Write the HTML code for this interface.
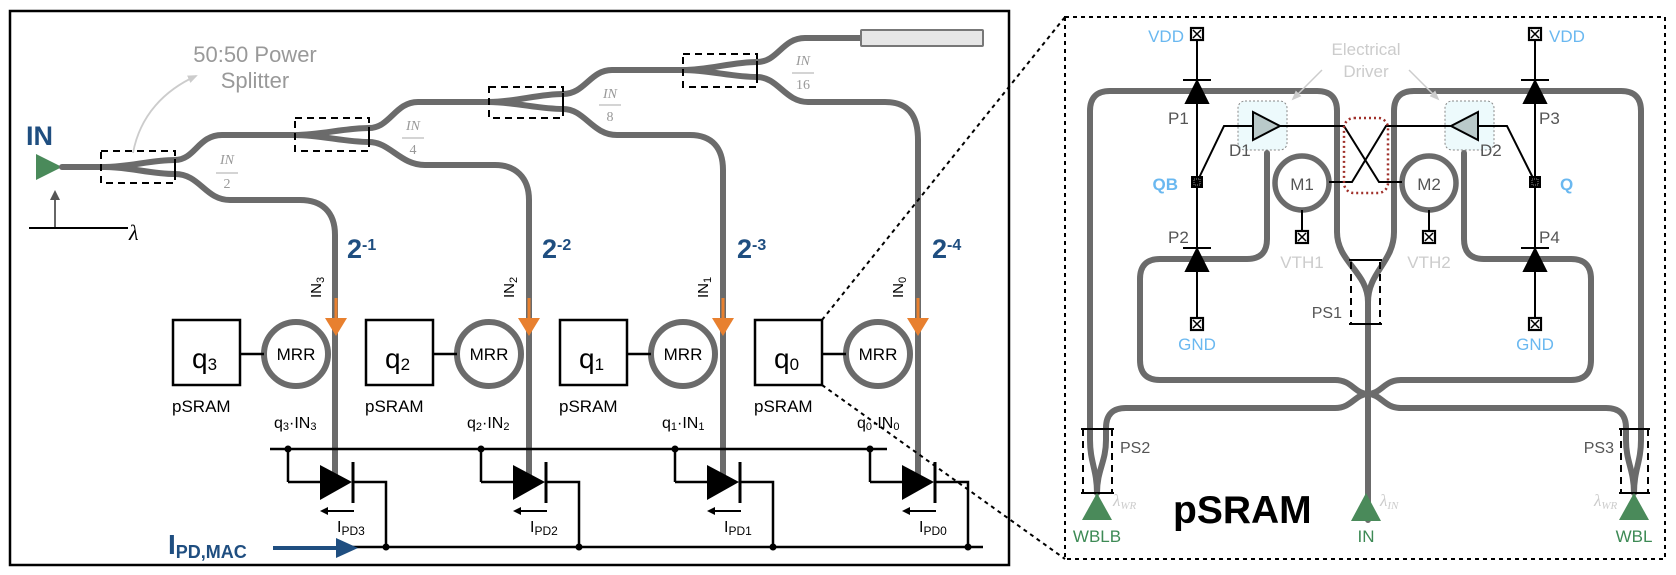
<!DOCTYPE html>
<html><head><meta charset="utf-8"><style>
html,body{margin:0;padding:0;background:#fff;}
svg{display:block;font-family:"Liberation Sans",sans-serif;}
</style></head><body>
<svg width="1676" height="575" viewBox="0 0 1676 575" xmlns="http://www.w3.org/2000/svg">
<defs>
<marker id="ah" markerWidth="8" markerHeight="8" refX="6" refY="4" orient="auto" markerUnits="userSpaceOnUse"><path d="M0,0 L8,4 L0,8 z" fill="#000"/></marker>
<marker id="ahg" markerWidth="10" markerHeight="10" refX="8" refY="5" orient="auto" markerUnits="userSpaceOnUse"><path d="M0,0 L10,5 L0,10 z" fill="#555"/></marker>
<marker id="ahl" markerWidth="10" markerHeight="10" refX="8" refY="5" orient="auto" markerUnits="userSpaceOnUse"><path d="M0,1 L10,5 L0,9 z" fill="#ccc"/></marker>
</defs>

<rect x="10" y="11" width="999" height="554" fill="none" stroke="#000" stroke-width="2.5"/>

<text x="255" y="62" font-size="22" fill="#999" text-anchor="middle">50:50 Power</text>
<text x="255" y="88" font-size="22" fill="#999" text-anchor="middle">Splitter</text>
<path d="M133,153 C140,115 165,90 196,76" fill="none" stroke="#ccc" stroke-width="1.8" marker-end="url(#ahl)"/>

<text x="26" y="145" font-size="27" font-weight="bold" fill="#1f4e80">IN</text>
<path d="M36,154 L62,167 L36,180 z" fill="#4a8a5a"/>
<line x1="55" y1="228" x2="55" y2="192" stroke="#555" stroke-width="1.8" marker-end="url(#ahg)"/>
<line x1="29" y1="228" x2="128" y2="228" stroke="#000" stroke-width="2"/>
<text x="129" y="240" font-size="22" font-style="italic" font-family="Liberation Serif,serif">λ</text>

<g fill="none" stroke="#6b6b6b" stroke-width="6" stroke-linecap="round">
<path d="M62,167 H105 C130,167 150,160 175,160 C195,160 198,135 222,135 H295"/>
<path d="M105,167 C130,167 150,174 175,174 C200,174 205,200 230,200 H300 C322,200 335,212 335,235 V478"/>
<path d="M295,135 C320,135 345,128 369,128 C390,128 395,102 418,102 H489"/>
<path d="M295,135 C320,135 345,142 369,142 C390,142 400,165 425,165 H495 C515,165 529,177 529,200 V478"/>
<path d="M489,102 C514,102 539,94 563,94 C585,94 590,70 612,70 H683"/>
<path d="M489,102 C514,102 539,109 563,109 C585,109 592,135 617,135 H690 C712,135 723,148 723,170 V478"/>
<path d="M683,70 C708,70 733,62 757,62 C778,62 782,38 805,38 H861"/>
<path d="M683,70 C708,70 733,77 757,77 C778,77 785,102 808,102 H885 C908,102 918,115 918,140 V478"/>
</g>
<rect x="861" y="30" width="122" height="16" fill="#e6e6e6" stroke="#777" stroke-width="2" rx="1"/>
<g fill="none" stroke="#000" stroke-width="2">
<rect x="101" y="151" width="74" height="32" stroke-dasharray="7,5"/>
<line x1="175" y1="159" x2="175" y2="175"/>
<rect x="295" y="118" width="74" height="33" stroke-dasharray="7,5"/>
<line x1="369" y1="127" x2="369" y2="143"/>
<rect x="489" y="87" width="74" height="31" stroke-dasharray="7,5"/>
<line x1="563" y1="93" x2="563" y2="110"/>
<rect x="683" y="54" width="74" height="33" stroke-dasharray="7,5"/>
<line x1="757" y1="61" x2="757" y2="78"/>
</g>
<g font-family="Liberation Serif,serif" fill="#999" font-size="14" text-anchor="middle">
<text x="227" y="164" font-style="italic">IN</text><line x1="216" y1="173" x2="238" y2="173" stroke="#aaa"/><text x="227" y="188">2</text>
<text x="413" y="130" font-style="italic">IN</text><line x1="402" y1="138" x2="424" y2="138" stroke="#aaa"/><text x="413" y="154">4</text>
<text x="610" y="98" font-style="italic">IN</text><line x1="599" y1="105" x2="621" y2="105" stroke="#aaa"/><text x="610" y="121">8</text>
<text x="803" y="65" font-style="italic">IN</text><line x1="792" y1="73" x2="814" y2="73" stroke="#aaa"/><text x="803" y="89">16</text>
</g>

<g font-weight="bold" fill="#1f4e80">
<text x="347" y="258" font-size="27">2<tspan font-size="16" dy="-8">-1</tspan></text>
<text x="542" y="258" font-size="27">2<tspan font-size="16" dy="-8">-2</tspan></text>
<text x="737" y="258" font-size="27">2<tspan font-size="16" dy="-8">-3</tspan></text>
<text x="932" y="258" font-size="27">2<tspan font-size="16" dy="-8">-4</tspan></text>
</g>
<g font-size="15" fill="#000">
<text transform="translate(321,298) rotate(-90)">IN<tspan font-size="11" dy="3">3</tspan></text>
<text transform="translate(514,298) rotate(-90)">IN<tspan font-size="11" dy="3">2</tspan></text>
<text transform="translate(708,298) rotate(-90)">IN<tspan font-size="11" dy="3">1</tspan></text>
<text transform="translate(903,298) rotate(-90)">IN<tspan font-size="11" dy="3">0</tspan></text>
</g>

<g id="c3">
<line x1="336" y1="298" x2="336" y2="322" stroke="#e8802f" stroke-width="3"/>
<path d="M325,318 L347,318 L336,336 z" fill="#e8802f"/>
<circle cx="296" cy="354" r="32" fill="#fff" stroke="#6b6b6b" stroke-width="6"/>
<text x="296" y="360" font-size="17" text-anchor="middle">MRR</text>
<rect x="173" y="320" width="67" height="65" fill="#fff" stroke="#000" stroke-width="2.5"/>
<line x1="240" y1="354" x2="264" y2="354" stroke="#000" stroke-width="2.5"/>
<line x1="288" y1="449" x2="288" y2="482" stroke="#000" stroke-width="2.5"/>
<path d="M288,482 H320" stroke="#000" stroke-width="2.5"/>
<path d="M320,465 L320,500 L352,482 z" fill="#000"/>
<line x1="353" y1="462" x2="353" y2="503" stroke="#000" stroke-width="3"/>
<path d="M353,482 H386 V547" fill="none" stroke="#000" stroke-width="2.5"/>
<circle cx="288" cy="449" r="3.5"/><circle cx="386" cy="547" r="3.5"/>
<line x1="354" y1="511" x2="322" y2="511" stroke="#000" stroke-width="2" marker-end="url(#ah)"/>
<text x="172" y="412" font-size="17">pSRAM</text>
</g>
<use href="#c3" transform="translate(193,0)"/>
<use href="#c3" transform="translate(387,0)"/>
<use href="#c3" transform="translate(582,0)"/>
<g font-size="28">
<text x="192" y="368">q<tspan font-size="17" dy="2">3</tspan></text>
<text x="385" y="368">q<tspan font-size="17" dy="2">2</tspan></text>
<text x="579" y="368">q<tspan font-size="17" dy="2">1</tspan></text>
<text x="774" y="368">q<tspan font-size="17" dy="2">0</tspan></text>
</g>
<g font-size="16">
<text x="274" y="428">q<tspan font-size="11" dy="2">3</tspan><tspan dy="-2">·IN</tspan><tspan font-size="11" dy="2">3</tspan></text>
<text x="467" y="428">q<tspan font-size="11" dy="2">2</tspan><tspan dy="-2">·IN</tspan><tspan font-size="11" dy="2">2</tspan></text>
<text x="662" y="428">q<tspan font-size="11" dy="2">1</tspan><tspan dy="-2">·IN</tspan><tspan font-size="11" dy="2">1</tspan></text>
<text x="857" y="428">q<tspan font-size="11" dy="2">0</tspan><tspan dy="-2">·IN</tspan><tspan font-size="11" dy="2">0</tspan></text>
</g>
<g font-size="16">
<text x="337" y="532">I<tspan font-size="12" dy="3">PD3</tspan></text>
<text x="530" y="532">I<tspan font-size="12" dy="3">PD2</tspan></text>
<text x="724" y="532">I<tspan font-size="12" dy="3">PD1</tspan></text>
<text x="919" y="532">I<tspan font-size="12" dy="3">PD0</tspan></text>
</g>
<line x1="270" y1="449" x2="887" y2="449" stroke="#000" stroke-width="2.5"/>
<line x1="352" y1="547" x2="983" y2="547" stroke="#000" stroke-width="2.5"/>
<text x="168" y="554" font-size="28" font-weight="bold" fill="#1f4e80">I<tspan font-size="18" dy="4">PD,MAC</tspan></text>
<line x1="273" y1="548" x2="340" y2="548" stroke="#1f4e80" stroke-width="4"/>
<path d="M336,538 L358,548 L336,558 z" fill="#1f4e80"/>

<line x1="822" y1="320" x2="1065" y2="17" stroke="#000" stroke-width="2" stroke-dasharray="4,4"/>
<line x1="822" y1="385" x2="1065" y2="559" stroke="#000" stroke-width="2" stroke-dasharray="4,4"/>

<rect x="1065" y="17" width="600" height="542" fill="none" stroke="#000" stroke-width="2" stroke-dasharray="4,4"/>

<rect x="1238" y="101" width="49" height="49" rx="7" fill="#edfafc" stroke="#888" stroke-width="1" stroke-dasharray="2,2"/>
<rect x="1445" y="101" width="49" height="49" rx="7" fill="#edfafc" stroke="#888" stroke-width="1" stroke-dasharray="2,2"/>

<g fill="none" stroke="#6b6b6b" stroke-width="6" stroke-linecap="round">
<path d="M1097,493 C1097,470 1090,462 1090,440 V111 Q1090,91 1110,91 H1317 Q1337,91 1337,111 V232 C1337,262 1368,272 1368,302 V520"/>
<path d="M1368,302 C1368,272 1394,262 1394,232 V111 Q1394,91 1414,91 H1621 Q1641,91 1641,111 V440 C1641,462 1634,470 1634,493"/>
<path d="M1267,153 V239 Q1267,259 1247,259 H1160 Q1140,259 1140,279 V360 Q1140,380 1160,380 H1335 C1352,380 1355,394 1368,394 C1381,394 1384,408 1401,408 H1606 Q1626,408 1626,428 V440 C1626,462 1634,470 1634,493"/>
<path d="M1464,153 V239 Q1464,259 1484,259 H1571 Q1591,259 1591,279 V360 Q1591,380 1571,380 H1401 C1384,380 1381,394 1368,394 C1355,394 1352,408 1335,408 H1126 Q1106,408 1106,428 V440 C1106,462 1097,470 1097,493"/>
</g>
<circle cx="1302" cy="183" r="27" fill="#fff" stroke="#6b6b6b" stroke-width="5.5"/>
<circle cx="1429" cy="183" r="27" fill="#fff" stroke="#6b6b6b" stroke-width="5.5"/>
<text x="1302" y="190" font-size="17" fill="#555" text-anchor="middle">M1</text>
<text x="1429" y="190" font-size="17" fill="#555" text-anchor="middle">M2</text>

<g fill="none" stroke="#000" stroke-width="2">
<line x1="1083" y1="429" x2="1083" y2="493" stroke-dasharray="7,5"/><line x1="1112" y1="429" x2="1112" y2="493" stroke-dasharray="7,5"/>
<line x1="1081" y1="429" x2="1114" y2="429"/><line x1="1081" y1="493" x2="1114" y2="493"/>
<line x1="1621" y1="429" x2="1621" y2="493" stroke-dasharray="7,5"/><line x1="1648" y1="429" x2="1648" y2="493" stroke-dasharray="7,5"/>
<line x1="1619" y1="429" x2="1650" y2="429"/><line x1="1619" y1="493" x2="1650" y2="493"/>
<line x1="1351" y1="262" x2="1351" y2="324" stroke-dasharray="7,5"/><line x1="1380" y1="262" x2="1380" y2="324" stroke-dasharray="7,5"/>
<line x1="1349" y1="260" x2="1382" y2="260"/><line x1="1349" y1="324" x2="1382" y2="324"/>
</g>
<g font-size="16" fill="#555">
<text x="1120" y="453">PS2</text>
<text x="1614" y="453" text-anchor="end">PS3</text>
<text x="1342" y="318" text-anchor="end">PS1</text>
</g>

<path d="M1097,493 L1112,520 L1082,520 z" fill="#4a8a5a"/>
<path d="M1366,493 L1381,521 L1351,521 z" fill="#4a8a5a"/>
<path d="M1634,493 L1649,520 L1619,520 z" fill="#4a8a5a"/>
<g font-size="17" fill="#3d8a55" text-anchor="middle">
<text x="1097" y="542">WBLB</text><text x="1366" y="542">IN</text><text x="1634" y="542">WBL</text>
</g>
<g font-family="Liberation Serif,serif" font-style="italic" fill="#ccc" font-size="17">
<text x="1113" y="506">λ<tspan font-size="11" dy="3">WR</tspan></text>
<text x="1380" y="506">λ<tspan font-size="11" dy="3">IN</tspan></text>
<text x="1594" y="506">λ<tspan font-size="11" dy="3">WR</tspan></text>
</g>
<text x="1173" y="523" font-size="39" font-weight="bold">pSRAM</text>

<g stroke="#000" stroke-width="2" fill="none">
<line x1="1197" y1="34" x2="1197" y2="324"/>
<line x1="1535" y1="34" x2="1535" y2="324"/>
<line x1="1302" y1="210" x2="1302" y2="237"/>
<line x1="1429" y1="210" x2="1429" y2="237"/>
<path d="M1197,182 L1224,126 H1253"/>
<path d="M1280,126 H1344 L1379,182 H1402"/>
<path d="M1329,182 H1352 L1386,126 H1451"/>
<path d="M1478,126 H1507 L1535,182"/>
</g>
<rect x="1344" y="118" width="44" height="75" rx="10" fill="none" stroke="#a0302a" stroke-width="2.5" stroke-dasharray="2,3"/>
<path d="M1253,112 L1280,126 L1253,140 z" fill="#b9c9c9" stroke="#000" stroke-width="2"/>
<path d="M1478,112 L1451,126 L1478,140 z" fill="#b9c9c9" stroke="#000" stroke-width="2"/>
<g font-size="17" fill="#555">
<text x="1229" y="156">D1</text><text x="1480" y="156">D2</text>
<text x="1168" y="124">P1</text><text x="1168" y="243">P2</text>
<text x="1539" y="124">P3</text><text x="1539" y="243">P4</text>
</g>
<g fill="#000" stroke="#000" stroke-width="2">
<line x1="1183" y1="80" x2="1211" y2="80"/><path d="M1197,81 L1208,103 L1186,103 z"/>
<line x1="1183" y1="248" x2="1211" y2="248"/><path d="M1197,249 L1208,271 L1186,271 z"/>
<line x1="1521" y1="80" x2="1549" y2="80"/><path d="M1535,81 L1546,103 L1524,103 z"/>
<line x1="1521" y1="248" x2="1549" y2="248"/><path d="M1535,249 L1546,271 L1524,271 z"/>
</g>
<g id="ct"><rect x="1191" y="28" width="12" height="12" fill="#fff" stroke="#000" stroke-width="2.2"/><path d="M1193,30 L1201,38 M1201,30 L1193,38" stroke="#000" stroke-width="1.5"/></g>
<use href="#ct" transform="translate(338,0)"/>
<use href="#ct" transform="translate(0,290)"/>
<use href="#ct" transform="translate(338,290)"/>
<use href="#ct" transform="translate(105,203)"/>
<use href="#ct" transform="translate(232,203)"/>
<rect x="1191" y="176" width="12" height="12" fill="#000"/><rect x="1194" y="179" width="6" height="6" fill="none" stroke="#888" stroke-width="1" stroke-dasharray="1,1"/>
<rect x="1529" y="176" width="12" height="12" fill="#000"/><rect x="1532" y="179" width="6" height="6" fill="none" stroke="#888" stroke-width="1" stroke-dasharray="1,1"/>
<g font-size="17" fill="#6ab8f0">
<text x="1184" y="42" text-anchor="end">VDD</text>
<text x="1549" y="42">VDD</text>
<text x="1197" y="350" text-anchor="middle">GND</text>
<text x="1535" y="350" text-anchor="middle">GND</text>
<text x="1178" y="190" text-anchor="end" font-weight="bold">QB</text>
<text x="1560" y="190" font-weight="bold">Q</text>
</g>
<g font-size="17" fill="#ccc" text-anchor="middle">
<text x="1302" y="268">VTH1</text><text x="1429" y="268">VTH2</text>
<text x="1366" y="55">Electrical</text><text x="1366" y="77">Driver</text>
</g>
<line x1="1322" y1="70" x2="1293" y2="99" stroke="#ccc" stroke-width="1.5" marker-end="url(#ahl)"/>
<line x1="1409" y1="70" x2="1438" y2="99" stroke="#ccc" stroke-width="1.5" marker-end="url(#ahl)"/>
</svg>
</body></html>
